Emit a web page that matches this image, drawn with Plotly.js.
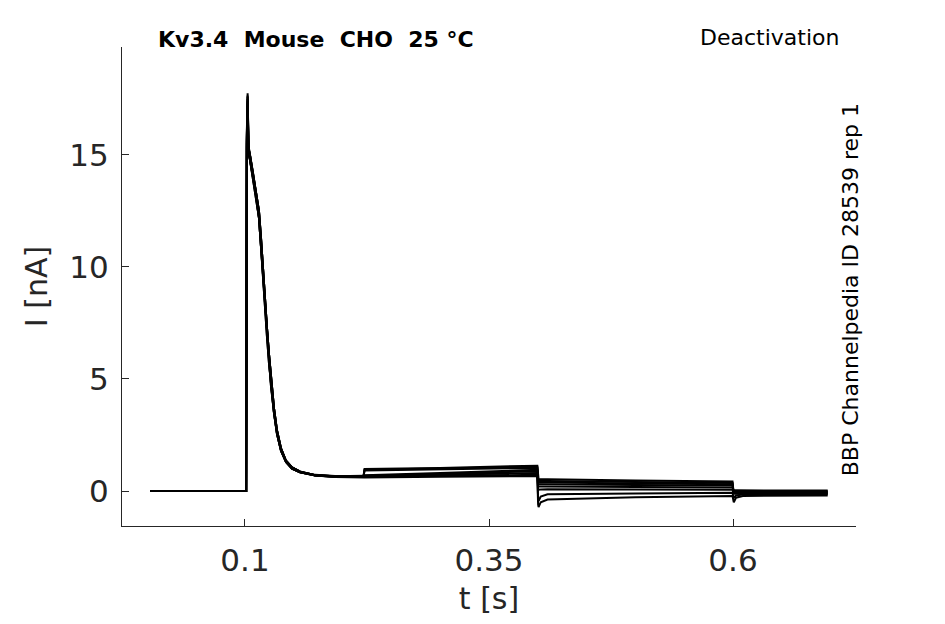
<!DOCTYPE html>
<html>
<head>
<meta charset="utf-8">
<script src="https://cdn.plot.ly/plotly-3.0.1.min.js"></script>
<style>
  html, body { margin: 0; padding: 0; background: #fff; }
  #chart { width: 945px; height: 624px; }
</style>
</head>
<body>
<div id="chart"></div>
<script>
// Kv3.4 deactivation sweeps (t in s, I in nA)
const tSec = [0.003, 0.1012, 0.1019, 0.1027, 0.1036, 0.1051, 0.1082, 0.1113, 0.1143, 0.1164,
  0.1184, 0.1205, 0.1225, 0.1246, 0.1266, 0.1297, 0.1328, 0.1369, 0.1420, 0.1482,
  0.1564, 0.1717, 0.1922, 0.2215, 0.2225, 0.30, 0.3995, 0.4003, 0.4008, 0.403,
  0.41, 0.50, 0.5995, 0.6003, 0.6008, 0.603, 0.61, 0.697];

const sweep1 = [0, 0, 16.0, 17.75, 15.4, 15.0, 14.2, 13.4, 12.5, 11.3,
  9.9, 8.6, 7.3, 6.1, 5.0, 3.7, 2.7, 1.9, 1.35, 1.05,
  0.86, 0.72, 0.67, 0.68, 0.98, 1.03, 1.13, 0.55, 0.52, 0.52,
  0.52, 0.47, 0.42, 0.05, 0.03, 0.03, 0.03, 0.02];
const sweep2 = [0, 0, 15.8, 17.6, 15.3, 15.0, 14.2, 13.4, 12.5, 11.3,
  9.9, 8.6, 7.3, 6.1, 5.0, 3.7, 2.7, 1.9, 1.35, 1.05,
  0.86, 0.71, 0.66, 0.67, 0.95, 1.0, 1.08, 0.47, 0.45, 0.45,
  0.45, 0.40, 0.36, 0.02, 0.0, 0.0, 0.0, -0.01];
const sweep3 = [0, 0, 15.6, 17.4, 15.2, 14.8, 14.0, 13.2, 12.2, 10.9,
  9.5, 8.2, 6.9, 5.7, 4.7, 3.5, 2.55, 1.8, 1.3, 1.0,
  0.84, 0.70, 0.65, 0.66, 0.92, 0.97, 1.03, 0.40, 0.38, 0.38,
  0.38, 0.34, 0.30, -0.02, -0.03, -0.03, -0.03, -0.04];
const sweep4 = [0, 0, 15.4, 17.2, 15.1, 14.8, 14.0, 13.2, 12.2, 10.9,
  9.5, 8.2, 6.9, 5.7, 4.7, 3.5, 2.55, 1.8, 1.3, 1.0,
  0.84, 0.70, 0.66, 0.68, 0.70, 0.80, 0.95, 0.32, 0.30, 0.30,
  0.30, 0.27, 0.24, -0.05, -0.06, -0.06, -0.06, -0.07];
const sweep5 = [0, 0, 15.7, 17.5, 15.3, 15.0, 14.2, 13.4, 12.5, 11.3,
  9.9, 8.6, 7.3, 6.1, 5.0, 3.7, 2.7, 1.9, 1.35, 1.05,
  0.86, 0.70, 0.66, 0.67, 0.68, 0.76, 0.88, 0.22, 0.20, 0.20,
  0.20, 0.18, 0.16, -0.08, -0.09, -0.09, -0.09, -0.10];
const sweep6 = [0, 0, 15.2, 17.0, 15.0, 14.8, 14.0, 13.2, 12.2, 10.9,
  9.5, 8.2, 6.9, 5.7, 4.7, 3.5, 2.55, 1.8, 1.3, 1.0,
  0.83, 0.69, 0.64, 0.64, 0.65, 0.72, 0.80, 0.10, 0.06, 0.07,
  0.08, 0.07, 0.06, -0.10, -0.12, -0.12, -0.12, -0.12];
const sweep7 = [0, 0, 15.5, 17.3, 15.2, 14.8, 14.0, 13.2, 12.2, 10.9,
  9.5, 8.2, 6.9, 5.7, 4.7, 3.5, 2.55, 1.8, 1.3, 1.0,
  0.84, 0.69, 0.63, 0.62, 0.62, 0.68, 0.72, -0.30, -0.45, -0.25,
  -0.15, -0.11, -0.08, -0.25, -0.30, -0.20, -0.16, -0.15];
const sweep8 = [0, 0, 15.9, 17.65, 15.4, 15.0, 14.2, 13.4, 12.5, 11.3,
  9.9, 8.6, 7.3, 6.1, 5.0, 3.7, 2.7, 1.9, 1.35, 1.05,
  0.87, 0.70, 0.62, 0.60, 0.60, 0.64, 0.66, -0.60, -0.72, -0.50,
  -0.38, -0.28, -0.22, -0.40, -0.50, -0.30, -0.22, -0.20];

const sweeps = [sweep1, sweep2, sweep3, sweep4, sweep5, sweep6, sweep7, sweep8];

const xTickVals = [0.1, 0.35, 0.6];
const xTickText = ["0.1", "0.35", "0.6"];
const yTickVals = [0, 5, 10, 15];
const yTickText = ["0", "5", "10", "15"];

const axisColor = "#262626";
const fontFamily = "DejaVu Sans, sans-serif";

const data = sweeps.map(function (s) {
  return {
    type: "scatter",
    mode: "lines",
    x: tSec,
    y: s,
    line: { color: "#000000", width: 2 },
    hoverinfo: "skip",
  };
});

const layout = {
  width: 945,
  height: 624,
  margin: { t: 47, l: 122, r: 89, b: 98 },
  paper_bgcolor: "#ffffff",
  plot_bgcolor: "#ffffff",
  showlegend: false,
  font: { family: fontFamily, color: axisColor },
  xaxis: {
    range: [-0.026, 0.726],
    tickvals: xTickVals,
    ticktext: xTickText,
    ticks: "inside",
    ticklen: 7,
    tickcolor: axisColor,
    tickfont: { size: 31, color: axisColor },
    ticklabelstandoff: 7,
    showline: true,
    linecolor: axisColor,
    linewidth: 1,
    showgrid: false,
    zeroline: false,
    title: { text: "t [s]", font: { size: 30, color: axisColor }, standoff: 10 },
  },
  yaxis: {
    range: [-1.5625, 19.82],
    tickvals: yTickVals,
    ticktext: yTickText,
    ticks: "inside",
    ticklen: 7,
    tickcolor: axisColor,
    tickfont: { size: 31, color: axisColor },
    ticklabelstandoff: 6,
    showline: true,
    linecolor: axisColor,
    linewidth: 1,
    showgrid: false,
    zeroline: false,
    title: { text: "I [nA]", font: { size: 30, color: axisColor }, standoff: 12 },
  },
  annotations: [
    {
      text: "<b>Kv3.4\u00a0\u00a0Mouse\u00a0\u00a0CHO\u00a0\u00a025 °C</b>",
      xref: "paper", yref: "paper",
      x: 0.046, y: 1.0167,
      xanchor: "left", yanchor: "middle",
      showarrow: false,
      font: { size: 22, color: "#000000", family: fontFamily },
    },
    {
      text: "Deactivation",
      xref: "paper", yref: "paper",
      x: 0.979, y: 1.0188,
      xanchor: "right", yanchor: "middle",
      showarrow: false,
      font: { size: 22, color: "#000000", family: fontFamily },
    },
    {
      text: "BBP Channelpedia ID 28539 rep 1",
      xref: "paper", yref: "paper",
      x: 0.993, y: 0.494,
      xanchor: "center", yanchor: "middle",
      textangle: -90,
      showarrow: false,
      font: { size: 22, color: "#000000", family: fontFamily },
    },
  ],
};

const config = { responsive: false, displayModeBar: false, staticPlot: true };

Plotly.newPlot("chart", data, layout, config);
</script>
</body>
</html>
